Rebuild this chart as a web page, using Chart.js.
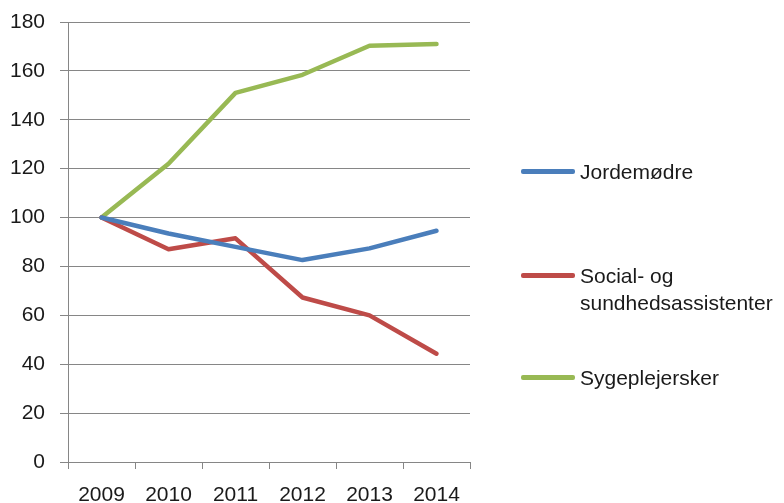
<!DOCTYPE html>
<html>
<head>
<meta charset="utf-8">
<script src="https://cdn.jsdelivr.net/npm/chart.js@4/dist/chart.umd.min.js"></script>
<style>
  html, body { margin: 0; padding: 0; background: #fff; }
  #wrap { position: relative; width: 784px; height: 503px; }
  #legend { position: absolute; left: 0; top: 0; font-family: "Liberation Sans", Arial, sans-serif; font-size: 21px; color: #1a1a1a; }
  .item { position: absolute; left: 521px; line-height: 27px; }
  .sw { position: absolute; left: 0; width: 54px; height: 4.5px; border-radius: 2px; top: 11px; }
  .txt { position: absolute; left: 59px; top: 0; white-space: nowrap; }
</style>
</head>
<body>
<div id="wrap">
  <canvas id="c" width="784" height="503"></canvas>
  <div id="legend"></div>
</div>
<script>
const years = ['2009', '2010', '2011', '2012', '2013', '2014'];
const jordemodre = [100, 93.5, 88, 82.6, 87.4, 94.6];
const socialSundhed = [100, 87, 91.5, 67.3, 60, 44.3];
const sygeplejersker = [100, 122, 151, 158.4, 170.3, 171];
const seriesNames = ['Jordemødre', ['Social- og', 'sundhedsassistenter'], 'Sygeplejersker'];
const yTicks = [0, 20, 40, 60, 80, 100, 120, 140, 160, 180];

const colors = ['#4A7EBB', '#BE4B48', '#98B954'];
const legendTops = [158, 262, 364];

const font = { family: '"Liberation Sans", Arial, sans-serif', size: 21 };
const gridColor = '#868686';

const datasets = [jordemodre, socialSundhed, sygeplejersker].map((d, i) => ({
  label: Array.isArray(seriesNames[i]) ? seriesNames[i].join(' ') : seriesNames[i],
  data: d,
  borderColor: colors[i],
  backgroundColor: colors[i],
  borderWidth: 4.5,
  pointRadius: 0,
  tension: 0,
  borderCapStyle: 'round',
  borderJoinStyle: 'round',
  fill: false
}));

function zeroPad(s) { s.paddingTop = 0; s.paddingBottom = 0; s.paddingLeft = 0; s.paddingRight = 0; }

new Chart(document.getElementById('c'), {
  type: 'line',
  data: { labels: years, datasets },
  options: {
    responsive: false,
    animation: false,
    devicePixelRatio: 1,
    layout: { padding: { left: 0, right: 314, top: 22, bottom: 0 } },
    plugins: { legend: { display: false }, tooltip: { enabled: false } },
    scales: {
      x: {
        offset: true,
        grid: { offset: true, drawOnChartArea: false, drawTicks: true, tickLength: 7, color: gridColor, lineWidth: 1 },
        border: { display: true, color: gridColor, width: 1 },
        ticks: { color: '#1a1a1a', font, padding: 14, maxRotation: 0, autoSkip: false },
        afterFit: s => { s.height = 41; zeroPad(s); }
      },
      y: {
        min: 0, max: 180,
        afterBuildTicks: s => { s.ticks = yTicks.map(v => ({ value: v })); },
        grid: { color: gridColor, lineWidth: 1, tickLength: 8 },
        border: { display: true, color: gridColor, width: 1 },
        ticks: { color: '#1a1a1a', font, padding: 15 },
        afterFit: s => { s.width = 68; zeroPad(s); }
      }
    }
  }
});

const leg = document.getElementById('legend');
seriesNames.forEach((name, i) => {
  const it = document.createElement('div');
  it.className = 'item';
  it.style.top = legendTops[i] + 'px';
  const sw = document.createElement('div');
  sw.className = 'sw';
  sw.style.background = colors[i];
  const tx = document.createElement('div');
  tx.className = 'txt';
  const lines = Array.isArray(name) ? name : [name];
  lines.forEach((l, k) => {
    if (k) tx.appendChild(document.createElement('br'));
    tx.appendChild(document.createTextNode(l));
  });
  it.appendChild(sw);
  it.appendChild(tx);
  leg.appendChild(it);
});
</script>
</body>
</html>
